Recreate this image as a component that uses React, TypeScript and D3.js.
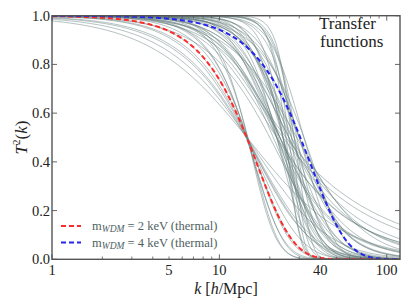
import React from 'react';
import * as d3 from 'd3';

// thermal WDM reference models
const thermalMass = [2, 4];
const thermalAlpha = [0.02233, 0.01069];
const thermalBeta = [2.24, 2.24];
const thermalGamma = [-4.46, -4.46];
const thermalColor = ['#ff2a2a', '#2424f0'];

// grey "ABC" models: k where T^2 = 1/2, and shape exponents
const greyKHalf = [
  14.6, 14.6, 14.6, 14.8, 14.5, 14.6, 14.4, 14.7, 14.6, 14.6, 14.6, 14.8,
  25, 26, 24, 27, 28, 22, 23, 22, 22.5, 23, 21, 24, 25, 22, 20, 26, 30, 32, 28,
  25, 24, 23, 26, 22, 27, 30, 22, 29, 24,
  28, 30, 26, 32, 24, 27, 29, 23
];
const greyBeta = [
  1.5, 1.7, 2.0, 2.5, 3.0, 2.2, 1.6, 4.0, 1.4, 2.8, 2.0, 3.5,
  8, 7, 6, 9, 6, 3, 2.5, 4, 3.5, 2, 2.5, 5, 4, 2.2, 1.8, 3, 3, 2.5, 5,
  4, 3, 5, 3.5, 2.5, 6, 4, 3, 7, 5,
  3, 4, 2.5, 5, 4, 3, 2, 3.5
];
const greyGamma = [
  -1.0, -1.5, -2.5, -3.0, -2.0, -6.0, -3.0, -1.5, -0.6, -5.0, -1.0, -3.0,
  -1.5, -3, -2, -0.8, -4, -2, -3, -1, -0.7, -1.5, -0.8, -0.5, -0.4, -5, -2, -1.2, -3, -4, -1,
  -0.1, -0.15, -0.12, -0.2, -0.25, -0.1, -0.2, -0.3, -0.35, -0.6,
  -0.5, -0.35, -0.45, -0.3, -0.5, -0.8, -0.6, -0.25
];

const xTickLabels = [1, 5, 10, 40, 100];
const yTickValues = [0, 0.2, 0.4, 0.6, 0.8, 1.0];

const W = 409, H = 307;
const margin = { top: 15.7, right: 9, bottom: 47.7, left: 52 };

function t2(k: number, a: number, b: number, g: number) {
  return Math.pow(1 + Math.pow(a * k, b), 2 * g);
}

function alphaFromHalf(kh: number, b: number, g: number) {
  const u = Math.pow(0.5, 1 / (2 * g)) - 1;
  return Math.pow(u, 1 / b) / kh;
}

export default function App() {
  const x = d3.scaleLog().domain([1, 120]).range([margin.left, W - margin.right]);
  const y = d3.scaleLinear().domain([0, 1]).range([H - margin.bottom, margin.top]);
  const ks = d3.range(0, 301).map(i => Math.pow(10, (i / 300) * Math.log10(120)));
  const line = d3.line<[number, number]>().x(d => x(d[0])).y(d => y(d[1]));

  const greyPaths = greyKHalf.map((kh, i) => {
    const a = alphaFromHalf(kh, greyBeta[i], greyGamma[i]);
    return line(ks.map(k => [k, t2(k, a, greyBeta[i], greyGamma[i])] as [number, number]));
  });
  const thermalPaths = thermalMass.map((m, i) =>
    line(ks.map(k => [k, t2(k, thermalAlpha[i], thermalBeta[i], thermalGamma[i])] as [number, number]))
  );

  const [x0, x1] = x.range();
  const [y0, y1] = y.range();
  const majorX = [1, 10, 100];
  const minorX = x.ticks().filter(t => !majorX.includes(t));
  const frame = '#555';
  const font = '"Liberation Serif", "DejaVu Serif", serif';

  return (
    <svg width={W} height={H} style={{ position: 'absolute', left: 0, top: 0, background: '#fff' }}>
      <defs>
        <clipPath id="plot">
          <rect x={x0} y={y1} width={x1 - x0} height={y0 - y1} />
        </clipPath>
      </defs>
      <g clipPath="url(#plot)">
        {greyPaths.map((d, i) => (
          <path key={i} d={d || ''} fill="none" stroke="#6a8282" strokeOpacity={0.5} strokeWidth={1} />
        ))}
        {thermalPaths.map((d, i) => (
          <path key={i} d={d || ''} fill="none" stroke={thermalColor[i]} strokeWidth={2} strokeDasharray="5,3" />
        ))}
      </g>
      {/* frame and inward ticks */}
      <rect x={x0} y={y1} width={x1 - x0} height={y0 - y1} fill="none" stroke={frame} strokeWidth={1.4} />
      {majorX.map(t => (
        <g key={'M' + t} stroke={frame} strokeWidth={0.9}>
          <line x1={x(t)} x2={x(t)} y1={y0} y2={y0 - 5} />
          <line x1={x(t)} x2={x(t)} y1={y1} y2={y1 + 5} />
        </g>
      ))}
      {minorX.map(t => (
        <g key={'m' + t} stroke={frame} strokeWidth={0.8}>
          <line x1={x(t)} x2={x(t)} y1={y0} y2={y0 - 2.8} />
          <line x1={x(t)} x2={x(t)} y1={y1} y2={y1 + 2.8} />
        </g>
      ))}
      {yTickValues.map(t => (
        <g key={'y' + t} stroke={frame} strokeWidth={0.9}>
          <line x1={x0} x2={x0 + 5} y1={y(t)} y2={y(t)} />
          <line x1={x1} x2={x1 - 5} y1={y(t)} y2={y(t)} />
        </g>
      ))}
      {/* tick labels */}
      <g fontFamily={font} fontSize={14.5} fill="#222">
        {yTickValues.map(t => (
          <text key={t} x={x0 - 2} y={y(t) + 5} textAnchor="end">{t.toFixed(1)}</text>
        ))}
        {xTickLabels.map(t => (
          <text key={t} x={x(t)} y={y0 + 16} textAnchor="middle">{t}</text>
        ))}
      </g>
      {/* axis titles */}
      <text x={(x0 + x1) / 2} y={294} textAnchor="middle" fontFamily={font} fontSize={16} fill="#222">
        <tspan fontStyle="italic">k</tspan> [<tspan fontStyle="italic">h</tspan>/Mpc]
      </text>
      <text transform={`translate(27,${(y0 + y1) / 2}) rotate(-90)`} textAnchor="middle" fontFamily={font} fontSize={17} fill="#222">
        <tspan fontStyle="italic">T</tspan>
        <tspan fontSize={11} dy={-7}>2</tspan>
        <tspan dy={7}>(</tspan>
        <tspan fontStyle="italic">k</tspan>)
      </text>
      {/* annotation */}
      <g fontFamily={font} fontSize={17} fill="#222">
        <text x={319} y={29}>Transfer</text>
        <text x={320} y={47}>functions</text>
      </g>
      {/* legend */}
      {thermalMass.map((m, i) => (
        <g key={m} transform={`translate(61,${226 + i * 16.5})`}>
          <line x1={0} x2={20} y1={0} y2={0} stroke={thermalColor[i]} strokeWidth={2} strokeDasharray="5,3" />
          <text x={31} y={4} fontFamily={font} fontSize={12.5} fill="#4e6262">
            m<tspan fontStyle="italic" fontSize={9.5} dy={2}>WDM</tspan>
            <tspan dy={-2}> = {m} keV (thermal)</tspan>
          </text>
        </g>
      ))}
    </svg>
  );
}
